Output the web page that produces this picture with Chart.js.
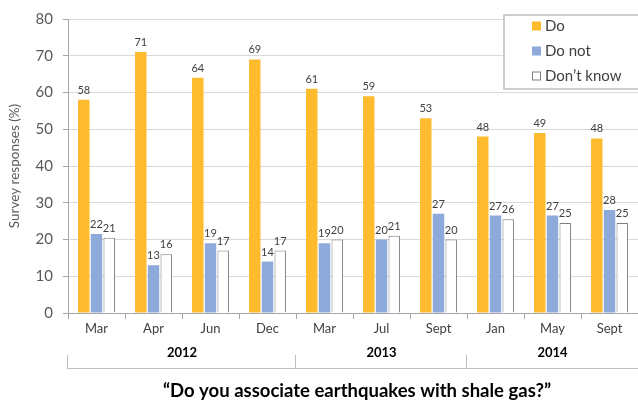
<!doctype html>
<html>

<head>
	<title>Earthquakes and shale gas</title>
	<script src="https://cdn.jsdelivr.net/npm/chart.js@4.4.0/dist/chart.umd.min.js"></script>
	<style>
		body { margin: 0; background: #fff; }
	</style>
</head>

<body>
	<canvas id="chart-area" width="638" height="403"></canvas>
	<script>
		var months = ['Mar', 'Apr', 'Jun', 'Dec', 'Mar', 'Jul', 'Sept', 'Jan', 'May', 'Sept'];
		var years = ['2012', '2013', '2014'];
		var yearSpans = [4, 3, 3];
		var seriesNames = ['Do', 'Do not', 'Don\u2019t know'];
		var doValues = [58, 71, 64, 69, 61, 59, 53, 48, 49, 47.5];
		var doNotValues = [21.5, 13, 19, 14, 19, 20, 27, 26.5, 26.5, 28];
		var dontKnowValues = [20.5, 16, 17, 17, 20, 21, 20, 25.5, 24.5, 24.5];
		var question = '\u201CDo you associate earthquakes with shale gas?\u201D';

		var FONT = 'Lato, "Open Sans", sans-serif';

		// value labels above each bar
		var barLabels = {
			id: 'barLabels',
			afterDatasetsDraw: function(chart) {
				var ctx = chart.ctx;
				ctx.save();
				ctx.font = '11px ' + FONT;
				ctx.fillStyle = '#404040';
				ctx.textAlign = 'center';
				ctx.textBaseline = 'bottom';
				chart.data.datasets.forEach(function(ds, i) {
					chart.getDatasetMeta(i).data.forEach(function(bar, j) {
						ctx.fillText(Math.round(ds.data[j]), bar.x, bar.y - 4);
					});
				});
				ctx.restore();
			}
		};

		// legend box, year groups and bottom caption
		var extras = {
			id: 'extras',
			afterDraw: function(chart) {
				var ctx = chart.ctx;
				var x = chart.scales.x;
				var area = chart.chartArea;
				var catW = (x.right - x.left) / months.length;
				ctx.save();

				// legend
				ctx.fillStyle = '#fff';
				ctx.fillRect(504, 15, 140, 74);
				ctx.strokeStyle = '#bfbfbf';
				ctx.lineWidth = 1.5;
				ctx.strokeRect(504, 15, 140, 74);
				ctx.font = '15px ' + FONT;
				ctx.textBaseline = 'middle';
				ctx.textAlign = 'left';
				chart.data.datasets.forEach(function(ds, i) {
					var cy = 26 + i * 25;
					ctx.fillStyle = ds.backgroundColor;
					ctx.fillRect(532, cy - 4.5, 9, 9);
					if (ds.borderWidth) {
						ctx.strokeStyle = ds.borderColor;
						ctx.lineWidth = 1;
						ctx.strokeRect(532.5, cy - 4, 8, 8);
					}
					ctx.fillStyle = '#404040';
					ctx.fillText(ds.label, 545, cy);
				});

				// year groups
				ctx.strokeStyle = '#bfbfbf';
				ctx.lineWidth = 1;
				ctx.beginPath();
				ctx.moveTo(x.left - 1, 368.5);
				ctx.lineTo(chart.width, 368.5);
				var start = 0;
				ctx.font = 'bold 13px ' + FONT;
				ctx.fillStyle = '#000';
				ctx.textAlign = 'center';
				years.forEach(function(yr, k) {
					var l = x.left + start * catW;
					var r = l + yearSpans[k] * catW;
					var lx = Math.round(l) - 0.5;
					ctx.moveTo(lx, 355);
					ctx.lineTo(lx, 368.5);
					ctx.fillText(yr, (l + r) / 2, 353);
					start += yearSpans[k];
				});
				ctx.stroke();

				// caption
				ctx.font = 'bold 18.5px ' + FONT;
				ctx.fillText(question, (area.left + area.right) / 2 + 4, 391);
				ctx.restore();
			}
		};

		var config = {
			type: 'bar',
			data: {
				labels: months,
				datasets: [{
					label: seriesNames[0],
					data: doValues,
					backgroundColor: '#fdbb2d',
					borderWidth: 0
				}, {
					label: seriesNames[1],
					data: doNotValues,
					backgroundColor: '#8eaadb',
					borderWidth: 0
				}, {
					label: seriesNames[2],
					data: dontKnowValues,
					backgroundColor: '#ffffff',
					borderColor: '#7f7f7f',
					borderWidth: 1
				}]
			},
			options: {
				responsive: false,
				animation: false,
				layout: {
					padding: { top: 15, right: 0, left: 0, bottom: 0 }
				},
				datasets: {
					bar: { categoryPercentage: 0.67, barPercentage: 0.9 }
				},
				plugins: {
					legend: { display: false },
					tooltip: { enabled: false }
				},
				scales: {
					x: {
						grid: {
							drawOnChartArea: false,
							tickLength: 6,
							tickColor: '#a6a6a6'
						},
						border: { color: '#a6a6a6' },
						ticks: {
							font: { family: FONT, size: 13 },
							color: '#404040',
							padding: 2,
							maxRotation: 0,
							autoSkip: false
						},
						afterFit: function(scale) { scale.height = 90; }
					},
					y: {
						min: 0,
						max: 80,
						grid: {
							color: '#d9d9d9',
							tickLength: 5,
							tickColor: '#a6a6a6'
						},
						border: { color: '#a6a6a6' },
						ticks: {
							stepSize: 10,
							font: { family: FONT, size: 15 },
							color: '#595959',
							padding: 10
						},
						title: {
							display: true,
							text: 'Survey responses (%)',
							font: { family: FONT, size: 13.5 },
							color: '#595959',
							padding: { top: 7, bottom: 0 }
						},
						afterFit: function(scale) { scale.width = 68; }
					}
				}
			},
			plugins: [barLabels, extras]
		};

		window.onload = function() {
			var ctx = document.getElementById('chart-area').getContext('2d');
			window.myBar = new Chart(ctx, config);
		};
	</script>
</body>

</html>
